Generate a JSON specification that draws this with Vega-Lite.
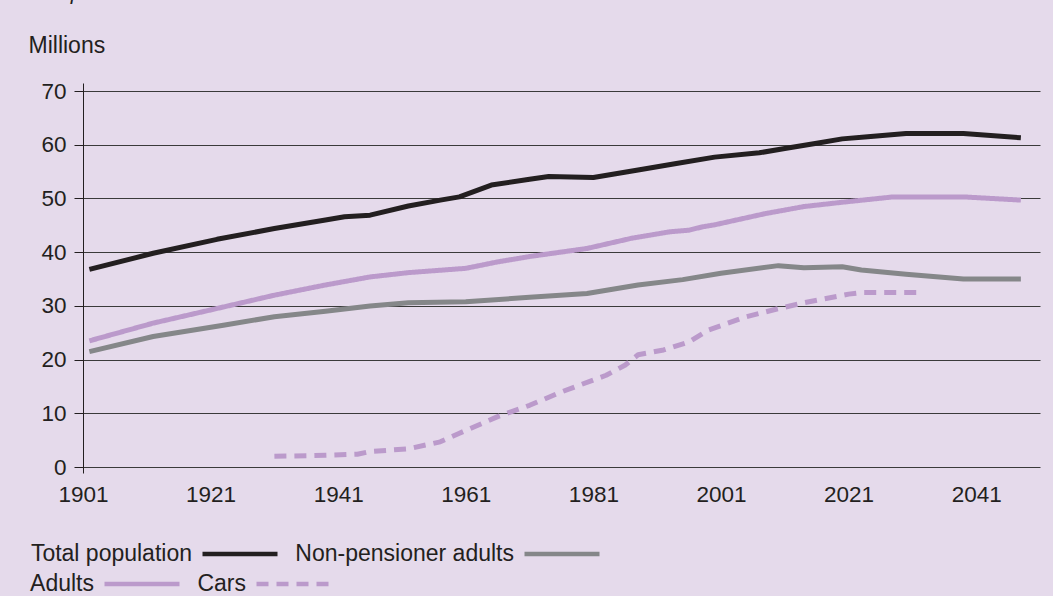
{
  "$schema": "https://vega.github.io/schema/vega-lite/v6.json",
  "autosize": {"type": "none"},
  "padding": {"left": 83, "top": 83, "right": 13, "bottom": 123},
  "width": 957,
  "height": 390,
  "background": "#E5DAEB",
  "title": {
    "text": "Population and cars in Britain",
    "anchor": "start",
    "frame": "group",
    "orient": "top",
    "offset": 13.5,
    "dx": -38,
    "baseline": "alphabetic",
    "font": "Liberation Sans",
    "fontSize": 21,
    "fontStyle": "italic",
    "fontWeight": "normal",
    "color": "#231F20"
  },
  "config": {
    "font": "Liberation Sans",
    "view": {"stroke": null},
    "axis": {
      "labelFont": "Liberation Sans",
      "titleFont": "Liberation Sans",
      "labelColor": "#231F20",
      "titleColor": "#231F20",
      "labelFontSize": 22.5,
      "titleFontSize": 23,
      "titleFontWeight": "normal"
    },
    "legend": {
      "labelFont": "Liberation Sans",
      "orient": "none",
      "direction": "horizontal",
      "columns": 2,
      "gridAlign": "none",
      "padding": 0,
      "symbolType": "stroke",
      "symbolSize": 5625,
      "symbolStrokeWidth": 4.5,
      "labelAlign": "right",
      "labelOffset": -88,
      "labelFontSize": 23,
      "labelColor": "#231F20",
      "labelLimit": 400,
      "columnPadding": 8,
      "rowPadding": 6
    }
  },
  "datasets": {
    "series": [
      {"year": 1902, "series": "Total population", "value": 36.8},
      {"year": 1912, "series": "Total population", "value": 39.8},
      {"year": 1922, "series": "Total population", "value": 42.4},
      {"year": 1931, "series": "Total population", "value": 44.4},
      {"year": 1939, "series": "Total population", "value": 46.0},
      {"year": 1942, "series": "Total population", "value": 46.6},
      {"year": 1946, "series": "Total population", "value": 46.9},
      {"year": 1952, "series": "Total population", "value": 48.6},
      {"year": 1957, "series": "Total population", "value": 49.7},
      {"year": 1960, "series": "Total population", "value": 50.3},
      {"year": 1965, "series": "Total population", "value": 52.5},
      {"year": 1971, "series": "Total population", "value": 53.6},
      {"year": 1974, "series": "Total population", "value": 54.1},
      {"year": 1981, "series": "Total population", "value": 53.9},
      {"year": 1988, "series": "Total population", "value": 55.3},
      {"year": 1994, "series": "Total population", "value": 56.5},
      {"year": 2000, "series": "Total population", "value": 57.7},
      {"year": 2007, "series": "Total population", "value": 58.5},
      {"year": 2011, "series": "Total population", "value": 59.3},
      {"year": 2016, "series": "Total population", "value": 60.3},
      {"year": 2020, "series": "Total population", "value": 61.1},
      {"year": 2024, "series": "Total population", "value": 61.5},
      {"year": 2030, "series": "Total population", "value": 62.1},
      {"year": 2039, "series": "Total population", "value": 62.1},
      {"year": 2048, "series": "Total population", "value": 61.3},

      {"year": 1902, "series": "Non-pensioner adults", "value": 21.5},
      {"year": 1912, "series": "Non-pensioner adults", "value": 24.3},
      {"year": 1923, "series": "Non-pensioner adults", "value": 26.4},
      {"year": 1931, "series": "Non-pensioner adults", "value": 28.0},
      {"year": 1939, "series": "Non-pensioner adults", "value": 29.0},
      {"year": 1946, "series": "Non-pensioner adults", "value": 30.0},
      {"year": 1952, "series": "Non-pensioner adults", "value": 30.6},
      {"year": 1961, "series": "Non-pensioner adults", "value": 30.8},
      {"year": 1971, "series": "Non-pensioner adults", "value": 31.6},
      {"year": 1980, "series": "Non-pensioner adults", "value": 32.3},
      {"year": 1988, "series": "Non-pensioner adults", "value": 33.9},
      {"year": 1995, "series": "Non-pensioner adults", "value": 34.9},
      {"year": 2001, "series": "Non-pensioner adults", "value": 36.1},
      {"year": 2010, "series": "Non-pensioner adults", "value": 37.5},
      {"year": 2014, "series": "Non-pensioner adults", "value": 37.1},
      {"year": 2020, "series": "Non-pensioner adults", "value": 37.3},
      {"year": 2023, "series": "Non-pensioner adults", "value": 36.7},
      {"year": 2030, "series": "Non-pensioner adults", "value": 35.9},
      {"year": 2039, "series": "Non-pensioner adults", "value": 35.0},
      {"year": 2048, "series": "Non-pensioner adults", "value": 35.0},

      {"year": 1902, "series": "Adults", "value": 23.5},
      {"year": 1912, "series": "Adults", "value": 26.8},
      {"year": 1923, "series": "Adults", "value": 29.8},
      {"year": 1931, "series": "Adults", "value": 32.0},
      {"year": 1939, "series": "Adults", "value": 33.9},
      {"year": 1946, "series": "Adults", "value": 35.4},
      {"year": 1952, "series": "Adults", "value": 36.2},
      {"year": 1961, "series": "Adults", "value": 37.0},
      {"year": 1966, "series": "Adults", "value": 38.2},
      {"year": 1971, "series": "Adults", "value": 39.2},
      {"year": 1980, "series": "Adults", "value": 40.7},
      {"year": 1987, "series": "Adults", "value": 42.6},
      {"year": 1993, "series": "Adults", "value": 43.8},
      {"year": 1996, "series": "Adults", "value": 44.1},
      {"year": 1998, "series": "Adults", "value": 44.7},
      {"year": 2000, "series": "Adults", "value": 45.1},
      {"year": 2008, "series": "Adults", "value": 47.2},
      {"year": 2014, "series": "Adults", "value": 48.5},
      {"year": 2020, "series": "Adults", "value": 49.3},
      {"year": 2028, "series": "Adults", "value": 50.3},
      {"year": 2039, "series": "Adults", "value": 50.3},
      {"year": 2048, "series": "Adults", "value": 49.7},

      {"year": 1931, "series": "Cars", "value": 2.0},
      {"year": 1939, "series": "Cars", "value": 2.2},
      {"year": 1944, "series": "Cars", "value": 2.4},
      {"year": 1946, "series": "Cars", "value": 2.9},
      {"year": 1952, "series": "Cars", "value": 3.4},
      {"year": 1957, "series": "Cars", "value": 4.7},
      {"year": 1960, "series": "Cars", "value": 6.3},
      {"year": 1966, "series": "Cars", "value": 9.4},
      {"year": 1971, "series": "Cars", "value": 11.5},
      {"year": 1976, "series": "Cars", "value": 14.0},
      {"year": 1983, "series": "Cars", "value": 17.1},
      {"year": 1986, "series": "Cars", "value": 19.0},
      {"year": 1988, "series": "Cars", "value": 20.9},
      {"year": 1992, "series": "Cars", "value": 21.8},
      {"year": 1996, "series": "Cars", "value": 23.3},
      {"year": 1999, "series": "Cars", "value": 25.5},
      {"year": 2005, "series": "Cars", "value": 28.0},
      {"year": 2010, "series": "Cars", "value": 29.5},
      {"year": 2014, "series": "Cars", "value": 30.6},
      {"year": 2021, "series": "Cars", "value": 32.2},
      {"year": 2023, "series": "Cars", "value": 32.5},
      {"year": 2032, "series": "Cars", "value": 32.5}
    ]
  },
  "data": {"name": "series"},
  "encoding": {
    "x": {
      "field": "year",
      "type": "quantitative",
      "scale": {"domain": [1901, 2051], "nice": false, "zero": false},
      "axis": {
        "title": null,
        "values": [1901, 1921, 1941, 1961, 1981, 2001, 2021, 2041],
        "format": "d",
        "domain": false,
        "ticks": false,
        "grid": false,
        "labelPadding": 10,
        "labelFlush": false
      }
    },
    "y": {
      "field": "value",
      "type": "quantitative",
      "scale": {"domain": [-1.1, 71.5], "nice": false, "zero": false},
      "axis": {
        "values": [0, 10, 20, 30, 40, 50, 60, 70],
        "domain": true,
        "domainColor": "#231F20",
        "domainWidth": 1,
        "ticks": true,
        "tickSize": 9,
        "tickColor": "#231F20",
        "tickWidth": 1,
        "grid": true,
        "gridColor": "#3A3A3A",
        "gridWidth": 1,
        "gridOpacity": 1,
        "labelPadding": 8,
        "title": "Millions",
        "titleAngle": 0,
        "titleX": -55,
        "titleY": -31,
        "titleAlign": "left",
        "titleBaseline": "alphabetic"
      }
    }
  },
  "layer": [
    {
      "transform": [{"filter": "datum.series === 'Total population' || datum.series === 'Non-pensioner adults'"}],
      "mark": {"type": "line", "strokeWidth": 5, "strokeCap": "butt", "strokeJoin": "round"},
      "encoding": {
        "color": {
          "field": "series",
          "type": "nominal",
          "scale": {
            "domain": ["Total population", "Non-pensioner adults"],
            "range": ["#231F20", "#858789"]
          },
          "legend": {"title": null, "legendX": 117, "legendY": 431}
        }
      }
    },
    {
      "transform": [{"filter": "datum.series === 'Adults' || datum.series === 'Cars'"}],
      "mark": {"type": "line", "strokeWidth": 5, "strokeCap": "butt", "strokeJoin": "round"},
      "encoding": {
        "color": {
          "field": "series",
          "type": "nominal",
          "scale": {
            "domain": ["Adults", "Cars"],
            "range": ["#BB9ACB", "#BB9ACB"]
          },
          "legend": {"title": null, "legendX": 19, "legendY": 461}
        },
        "strokeDash": {
          "field": "series",
          "type": "nominal",
          "scale": {
            "domain": ["Adults", "Cars"],
            "range": [[1, 0], [12, 8]]
          },
          "legend": {"title": null, "legendX": 19, "legendY": 461}
        }
      }
    }
  ],
  "resolve": {"scale": {"color": "independent", "strokeDash": "independent"}}
}
